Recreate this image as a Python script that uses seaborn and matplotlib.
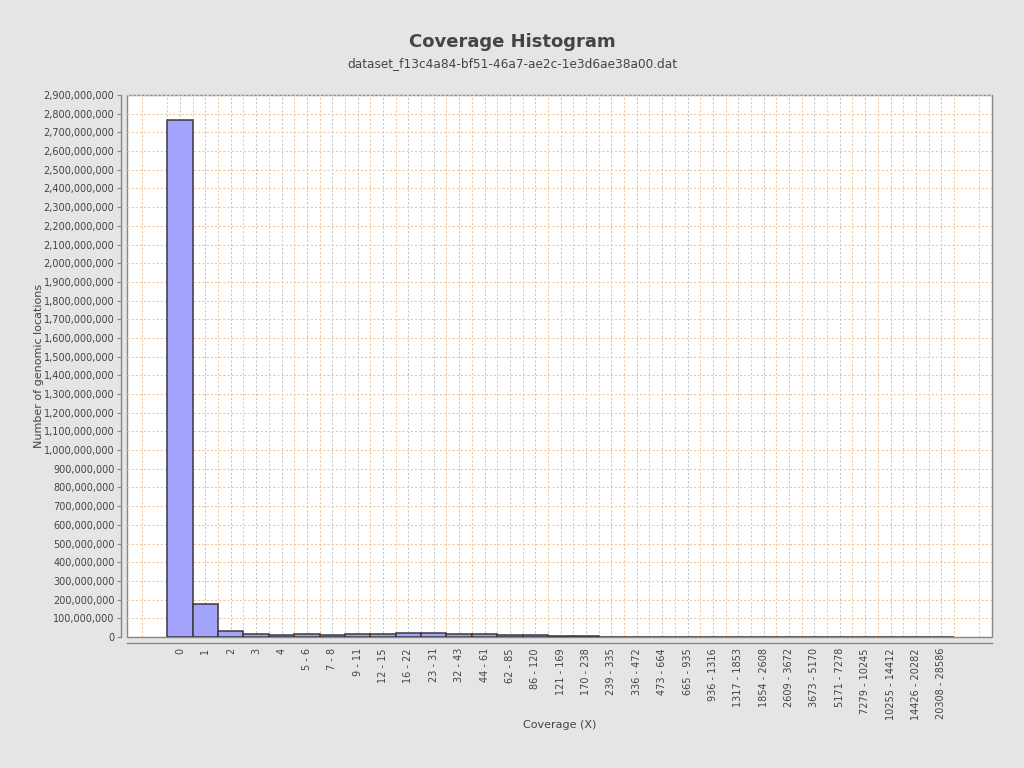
"""
Coverage histogram, redrawn with seaborn.
"""

import matplotlib
matplotlib.use('Agg')
import matplotlib.pyplot as plt
import matplotlib.ticker as mticker
import seaborn as sns
import pandas as pd
import numpy as np

# Coverage bins (x axis labels)
coverage_bins = [
    '0', '1', '2', '3', '4', '5 - 6', '7 - 8', '9 - 11', '12 - 15', '16 - 22',
    '23 - 31', '32 - 43', '44 - 61', '62 - 85', '86 - 120', '121 - 169',
    '170 - 238', '239 - 335', '336 - 472', '473 - 664', '665 - 935',
    '936 - 1316', '1317 - 1853', '1854 - 2608', '2609 - 3672', '3673 - 5170',
    '5171 - 7278', '7279 - 10245', '10255 - 14412', '14426 - 20282',
    '20308 - 28586',
]

# Number of genomic locations per bin
locations = [
    2765000000, 176000000, 32000000, 16000000, 10000000, 14000000, 10000000,
    14000000, 14000000, 21000000, 21000000, 16000000, 15000000, 11000000,
    11000000, 5000000, 4000000, 1500000, 800000, 500000, 300000, 200000,
    120000, 80000, 50000, 30000, 20000, 12000, 8000, 5000, 3000,
]

df = pd.DataFrame({'coverage': coverage_bins, 'locations': locations})

sns.set_style('white')
plt.rcParams['font.family'] = ['DejaVu Sans']

fig = plt.figure(figsize=(10.24, 7.68), dpi=100)
fig.patch.set_facecolor('#e5e5e5')
ax = fig.add_axes([127 / 1024, 1 - 637 / 768, 865 / 1024, 542 / 768])
ax.set_facecolor('white')

sns.barplot(data=df, x='coverage', y='locations', color='#a3a3fc',
            saturation=1, width=1.0, edgecolor='#3a3a3a', linewidth=1.1, ax=ax)

ax.set_xlim(-2.09, 32.0)
ax.set_ylim(0, 2900000000)

# Grid: horizontal every 100M, vertical every half category
ax.yaxis.set_major_locator(mticker.MultipleLocator(100000000))
ax.yaxis.set_major_formatter(mticker.FuncFormatter(lambda v, p: f'{int(v):,}'))
ax.xaxis.set_minor_locator(mticker.FixedLocator(np.arange(-2, 32.1, 1.0) + 0.5))
ax.set_axisbelow(True)
grid_style = dict(linestyle=(0, (2, 2)), linewidth=0.75)
ax.grid(True, which='major', axis='y', color='#f0c49c', **grid_style)
ax.grid(True, which='minor', axis='x', color='#f0c49c', **grid_style)
ax.grid(True, which='major', axis='x', color='#c4c4c4', **grid_style)

# Plot border plus offset axis lines
ax.patch.set_edgecolor('#888888')
ax.patch.set_linewidth(1.0)
for side in ['top', 'right']:
    ax.spines[side].set_visible(False)
for side in ['left', 'bottom']:
    ax.spines[side].set_position(('outward', 4))
    ax.spines[side].set_color('#888888')
    ax.spines[side].set_linewidth(1.0)

ax.tick_params(axis='y', which='major', length=3, width=0.8, color='#888888',
               labelsize=7, labelcolor='#444444', pad=2, left=True)
ax.tick_params(axis='x', which='major', length=0, labelsize=7,
               labelcolor='#444444', pad=4, rotation=90)
ax.tick_params(axis='x', which='minor', length=0)

ax.set_xlabel('Coverage (X)', fontsize=8, color='#444444', labelpad=0)
ax.set_ylabel('Number of genomic locations', fontsize=8, color='#444444', labelpad=0)

fig.text(0.5, 0.945, 'Coverage Histogram', ha='center', va='center',
         fontsize=13, fontweight='bold', color='#444444')
fig.text(0.5, 0.917, 'dataset_f13c4a84-bf51-46a7-ae2c-1e3d6ae38a00.dat',
         ha='center', va='center', fontsize=8.7, color='#444444')

plt.savefig('out.png', dpi=100, facecolor=fig.get_facecolor())
plt.close()
